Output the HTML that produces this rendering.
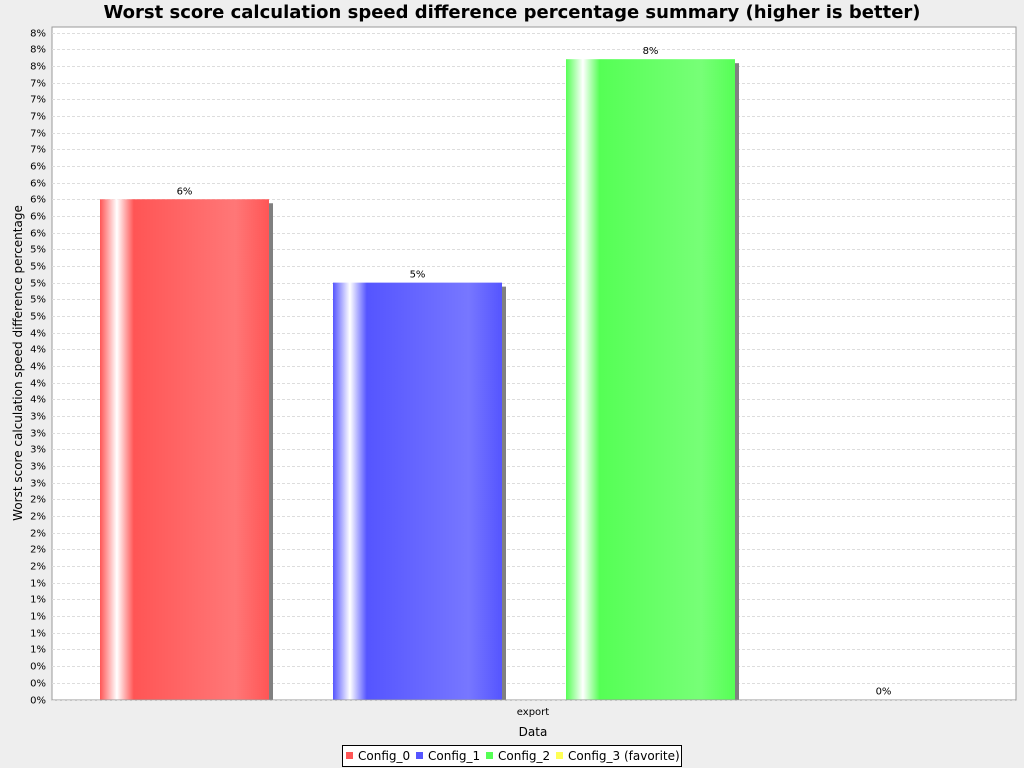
<!DOCTYPE html>
<html><head><meta charset="utf-8">
<style>
html,body{margin:0;padding:0;background:#eeeeee;}
svg{display:block;font-family:"DejaVu Sans","Liberation Sans",sans-serif;}
</style></head>
<body>
<svg id="chart" width="1024" height="768">
<defs>
<linearGradient id="gr0" x1="0" x2="1" y1="0" y2="0">
<stop offset="0" stop-color="#ff5555"/><stop offset="0.1" stop-color="#ffffff"/><stop offset="0.2" stop-color="#ff5555"/><stop offset="0.8" stop-color="#ff7777"/><stop offset="1" stop-color="#ff5555"/></linearGradient>
<linearGradient id="gr1" x1="0" x2="1" y1="0" y2="0">
<stop offset="0" stop-color="#5555ff"/><stop offset="0.1" stop-color="#ffffff"/><stop offset="0.2" stop-color="#5555ff"/><stop offset="0.8" stop-color="#7777ff"/><stop offset="1" stop-color="#5555ff"/></linearGradient>
<linearGradient id="gr2" x1="0" x2="1" y1="0" y2="0">
<stop offset="0" stop-color="#55ff55"/><stop offset="0.1" stop-color="#ffffff"/><stop offset="0.2" stop-color="#55ff55"/><stop offset="0.8" stop-color="#77ff77"/><stop offset="1" stop-color="#55ff55"/></linearGradient>
<linearGradient id="gr3" x1="0" x2="1" y1="0" y2="0">
<stop offset="0" stop-color="#ffff55"/><stop offset="0.1" stop-color="#ffffff"/><stop offset="0.2" stop-color="#ffff55"/><stop offset="0.8" stop-color="#ffff77"/><stop offset="1" stop-color="#ffff55"/></linearGradient>
</defs>
<text x="512" y="18" text-anchor="middle" font-size="18" font-weight="bold" fill="#000">Worst score calculation speed difference percentage summary (higher is better)</text>
<rect x="52" y="27" width="964" height="673" fill="#ffffff" stroke="#999" stroke-width="1"/>
<g id="grid"></g>
<g id="yticks"></g>
<g id="bars"></g>
<text x="533" y="715" text-anchor="middle" font-size="10" fill="#000">export</text>
<text x="533" y="736" text-anchor="middle" font-size="12" fill="#000">Data</text>
<text transform="translate(22,363) rotate(-90)" text-anchor="middle" font-size="12" fill="#000">Worst score calculation speed difference percentage</text>
<g>
<rect x="342.5" y="745.5" width="339" height="21" fill="#fff" stroke="#000"/>
<g id="legend"></g>
</g>
</svg>
<script>
const categories = ["Config_0","Config_1","Config_2","Config_3 (favorite)"];
const values = [6.0, 5.0, 7.68, 0];
const tickValues = [];
for (let i = 0; i <= 40; i++) tickValues.push(+(i*0.2).toFixed(1));
const colors = ["#ff5555","#5555ff","#55ff55","#ffff55"];

const NS = "http://www.w3.org/2000/svg";
const y0 = 699.5, pxPer = 83.375;
function yScale(v){ return y0 - v*pxPer; }
function xScale(i){ return 100 + i*233; }
const barW = 169;
function mk(tag, attrs, parent){ const e=document.createElementNS(NS,tag); for(const k in attrs) e.setAttribute(k,attrs[k]); parent.appendChild(e); return e; }

const grid=document.getElementById('grid'), yt=document.getElementById('yticks');
tickValues.forEach(v=>{
  const y=Math.round(yScale(v))+0.5;
  const l=mk('line',{x1:52,x2:1016,y1:y,y2:y,stroke:'#dddddd','stroke-dasharray':'3,2','stroke-width':1},grid);
  
  
  const t=mk('text',{x:46,y:y+3,'text-anchor':'end','font-size':10,fill:'#000'},yt);
  t.textContent=Math.round(v)+'%';
  
  
});

const bars=document.getElementById('bars');
values.forEach((v,i)=>{
  const x=xScale(i), top=yScale(v), h=y0-top;
  if(h>0){
    const s=mk('rect',{x:x+4,y:top+4,width:barW,height:h-4,fill:'#808080'},bars);
    
    
    const r=mk('rect',{x:x,y:top,width:barW,height:h,fill:'url(#gr'+i+')'},bars);
    
    
  }
  const t=mk('text',{x:x+barW/2,y:top-5,'text-anchor':'middle','font-size':10,fill:'#000'},bars);
  t.textContent=Math.round(v)+'%';
  
  
});

const lg=document.getElementById('legend');
const lx=[346,416,486,556];
categories.forEach((c,i)=>{
  const r=mk('rect',{x:lx[i],y:752,width:7,height:7,fill:colors[i]},lg);
  
  
  const t=mk('text',{x:lx[i]+12,y:760,'font-size':12,fill:'#000'},lg);
  t.textContent=c;
  
  
});
</script>
</body></html>
